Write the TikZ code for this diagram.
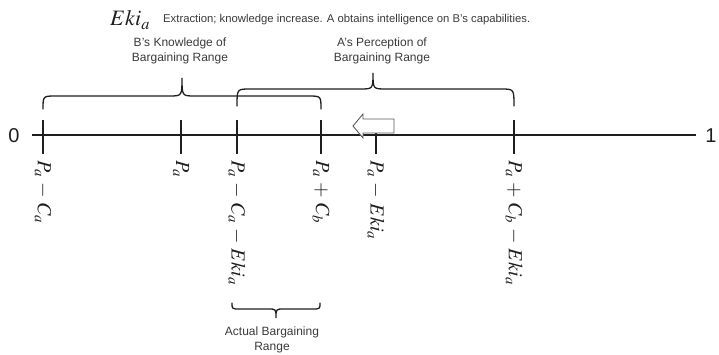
\documentclass[tikz,border=0pt]{standalone}
\usepackage{mathptmx}
\usepackage{fontspec}
\setmainfont{Liberation Serif}
\setsansfont{Liberation Sans}
\definecolor{ink}{HTML}{1E1E1E}
\definecolor{txt}{HTML}{3A3A3A}
\definecolor{arrowline}{HTML}{5A5A5A}

% curly brace: #1 left x, #2 right x, #3 cusp x, #4 end y, #5 flat y, #6 tip y, #7 corner size
\newcommand\curlybrace[7]{%
  (#1,#4) .. controls (#1,#5) .. (#1+#7,#5) -- (#3-#7,#5)
  .. controls (#3,#5) .. (#3,#6)
  .. controls (#3,#5) .. (#3+#7,#5) -- (#2-#7,#5)
  .. controls (#2,#5) .. (#2,#4)}
% binary operators with fixed gaps
\newcommand\mn{\kern5pt{-}\kern5pt}
\newcommand\pl{\kern5pt{+}\kern5pt}

\begin{document}
\begin{tikzpicture}[x=1pt,y=-1pt,
  axisline/.style={draw=ink,line width=1.6pt},
  tickmark/.style={draw=ink,line width=1.6pt},
  bracestyle/.style={draw=ink,line width=1.3pt,line cap=round},
  pointlabel/.style={rotate=-90,anchor=west,inner sep=0pt,text=ink,
    font=\fontsize{20}{24}\selectfont},
  bracetext/.style={align=center,text=txt,inner sep=0pt,
    font=\sffamily\fontsize{12}{15}\selectfont},
  endlabel/.style={text=ink,inner sep=0pt,font=\sffamily\fontsize{20}{24}\selectfont}]
\useasboundingbox (0,0) rectangle (719,355);

% points on the axis
\coordinate (pc) at (43,135);
\coordinate (pa) at (181,135);
\coordinate (pce) at (237,135);
\coordinate (pcb) at (321,135);
\coordinate (pe) at (376,135);
\coordinate (pcbe) at (514,135);
\coordinate (axl) at (32,135);
\coordinate (axr) at (696,135);

% heading
\node[inner sep=0pt,text=ink,font=\fontsize{22}{26}\selectfont] (head) at (130,20) {$Eki_a$};
\node[anchor=west,inner sep=0pt,text=txt,font=\sffamily\fontsize{11.3}{13}\selectfont]
  (note) at (163,20) {Extraction; knowledge increase. A obtains intelligence on B's capabilities.};

% axis and ends
\draw[axisline] (axl) -- (axr);
\node[endlabel] (zero) at (14,136) {0};
\node[endlabel] (one) at (711,136) {1};

% ticks
\foreach \p in {pc,pa,pce,pcb,pe,pcbe}
  \draw[tickmark] ([yshift=-19pt]\p) -- ([yshift=15pt]\p);

% shift arrow
\draw[draw=arrowline,fill=white,line width=0.9pt,line join=miter]
  (394,119) -- (363,119) -- (363,114) -- (353,126) -- (363,138) -- (363,133) -- (394,133) -- cycle;

% braces above the axis
\draw[bracestyle] \curlybrace{43}{321}{182}{109}{96}{78}{13};
\draw[bracestyle] \curlybrace{237}{514}{373}{106}{89}{73}{13};
\node[bracetext] (bk) at (180,51) {B's Knowledge of\\Bargaining Range};
\node[bracetext] (ap) at (382,51) {A's Perception of\\Bargaining Range};

% labels under the ticks
\node[pointlabel] (lpc) at ([yshift=-25pt]pc) {$P_a \mn C_a$};
\node[pointlabel] (lpa) at ([yshift=-25pt]pa) {$P_a$};
\node[pointlabel] (lpce) at ([yshift=-25pt]pce) {$P_a \mn C_a \mn Eki_a$};
\node[pointlabel] (lpcb) at ([yshift=-25pt]pcb) {$P_a \pl C_b$};
\node[pointlabel] (lpe) at ([yshift=-25pt]pe) {$P_a \mn Eki_a$};
\node[pointlabel] (lpcbe) at ([yshift=-25pt]pcbe) {$P_a \pl C_b \mn Eki_a$};

% brace below
\draw[bracestyle] \curlybrace{232}{320}{276}{303}{309}{318}{8};
\node[bracetext] (ab) at (272,340) {Actual Bargaining\\Range};
\end{tikzpicture}
\end{document}
